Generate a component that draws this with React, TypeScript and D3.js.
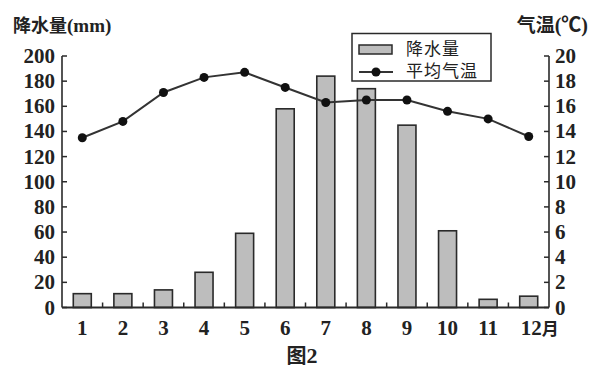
import React from "react";
import * as d3 from "d3";

const months = ["1", "2", "3", "4", "5", "6", "7", "8", "9", "10", "11", "12"];
const precipitation = [11, 11, 14, 28, 59, 158, 184, 174, 145, 61, 6.5, 9];
const temperature = [13.5, 14.8, 17.1, 18.3, 18.7, 17.5, 16.3, 16.5, 16.5, 15.6, 15.0, 13.6];
const leftTicks = [0, 20, 40, 60, 80, 100, 120, 140, 160, 180, 200];
const rightTicks = [0, 2, 4, 6, 8, 10, 12, 14, 16, 18, 20];

const W = 600, H = 387;
const L = 62, R = 549, T = 56, B = 307.5;
const font = "'Liberation Serif', 'Noto Sans CJK SC', serif";

export default function App() {
  const x = d3.scaleBand<string>().domain(months).range([L, R]).paddingInner(0).paddingOuter(0);
  const yL = d3.scaleLinear().domain([0, 200]).range([B, T]);
  const yR = d3.scaleLinear().domain([0, 20]).range([B, T]);
  const bw = 18;
  const cx = (m: string) => (x(m) as number) + x.bandwidth() / 2;
  const line = d3.line<number>().x((_, i) => cx(months[i])).y((d) => yR(d));

  return (
    <svg width={W} height={H} style={{ position: "absolute", left: 0, top: 0, background: "#fff" }}>
      {/* titles */}
      <text x={13} y={32} fontFamily={font} fontSize={18} fontWeight={700} fill="#222">
        降水量<tspan fontSize={19}>(mm)</tspan>
      </text>
      <text x={588} y={32} textAnchor="end" fontFamily={font} fontSize={19} fontWeight={700} fill="#222">
        气温<tspan fontSize={20}>(℃)</tspan>
      </text>
      <text x={302} y={363} textAnchor="middle" fontFamily={font} fontSize={20} fontWeight={700} fill="#222">
        图<tspan fontSize={22}>2</tspan>
      </text>

      {/* bars */}
      {precipitation.map((v, i) => (
        <rect key={i} x={cx(months[i]) - bw / 2} y={yL(v)} width={bw} height={B - yL(v)}
          fill="#bdbdbd" stroke="#2a2a2a" strokeWidth={1.6} />
      ))}

      {/* axes */}
      <line x1={L} y1={T} x2={L} y2={B} stroke="#2a2a2a" strokeWidth={1.6} />
      <line x1={R} y1={T} x2={R} y2={B} stroke="#2a2a2a" strokeWidth={1.6} />
      <line x1={L} y1={B} x2={R} y2={B} stroke="#2a2a2a" strokeWidth={1.8} />
      {leftTicks.map((t) => (
        <g key={"l" + t}>
          <line x1={L} x2={L + 5} y1={yL(t)} y2={yL(t)} stroke="#2a2a2a" strokeWidth={1.5} />
          <text x={L - 7} y={yL(t) + 7} textAnchor="end" fontFamily={font} fontSize={21} fontWeight={700} fill="#222">{t}</text>
        </g>
      ))}
      {rightTicks.map((t) => (
        <g key={"r" + t}>
          <line x1={R - 5} x2={R} y1={yR(t)} y2={yR(t)} stroke="#2a2a2a" strokeWidth={1.5} />
          <text x={R + 6} y={yR(t) + 7} textAnchor="start" fontFamily={font} fontSize={21} fontWeight={700} fill="#222">{t}</text>
        </g>
      ))}
      {months.slice(1).map((m) => (
        <line key={"t" + m} x1={x(m) as number} x2={x(m) as number} y1={B} y2={B - 5} stroke="#2a2a2a" strokeWidth={1.5} />
      ))}
      {months.map((m, i) => (
        i < months.length - 1 ? (
          <text key={"m" + m} x={cx(m)} y={335} textAnchor="middle" fontFamily={font} fontSize={21} fontWeight={700} fill="#222">{m}</text>
        ) : (
          <text key={"m" + m} x={cx(m) - 8} y={335} textAnchor="start" fontFamily={font} fontSize={21} fontWeight={700} fill="#222">
            {m}<tspan fontSize={17}>月</tspan>
          </text>
        )
      ))}

      {/* temperature line */}
      <path d={line(temperature) || ""} fill="none" stroke="#333" strokeWidth={2} />
      {temperature.map((v, i) => (
        <circle key={i} cx={cx(months[i])} cy={yR(v)} r={4.5} fill="#111" />
      ))}

      {/* legend */}
      <rect x={352} y={33.5} width={139} height={47.5} fill="#fff" stroke="#2a2a2a" strokeWidth={1.5} />
      <rect x={359} y={45} width={33} height={9} fill="#bdbdbd" stroke="#2a2a2a" strokeWidth={1.5} />
      <text x={406} y={55} fontFamily={font} fontSize={17} fill="#222" letterSpacing={1}>降水量</text>
      <line x1={359} x2={393} y1={72} y2={72} stroke="#333" strokeWidth={2} />
      <circle cx={376} cy={72} r={4.5} fill="#111" />
      <text x={406} y={77} fontFamily={font} fontSize={17} fill="#222" letterSpacing={1}>平均气温</text>
    </svg>
  );
}
